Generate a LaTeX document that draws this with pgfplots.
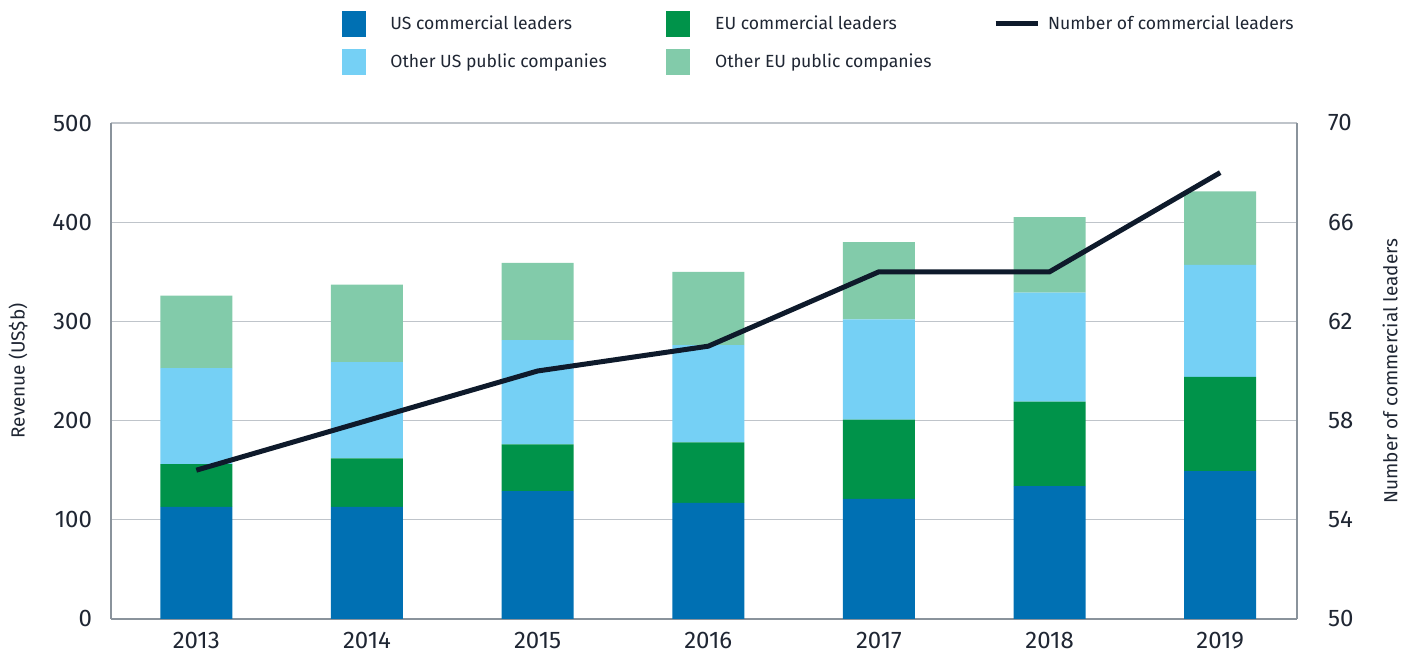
\documentclass[border=0pt]{standalone}
\usepackage{pgfplots}
\pgfplotsset{compat=1.18}
\usepackage{fontspec}
\setmainfont{Fira Sans}

\definecolor{usleader}{HTML}{0070B3}
\definecolor{euleader}{HTML}{00934A}
\definecolor{usother}{HTML}{75D0F5}
\definecolor{euother}{HTML}{82CBAA}
\definecolor{navy}{HTML}{0E1A2B}
\definecolor{txt}{HTML}{1F2633}
\definecolor{gridc}{HTML}{BFC4CA}
\definecolor{axc}{HTML}{8A939C}

\pgfplotsset{
  common/.style={
    width=593pt, height=248pt, scale only axis,
    xmin=-0.5, xmax=6.45,
    major tick length=0pt,
    tick label style={font=\fontsize{12}{14}\selectfont, text=txt},
    label style={font=\fontsize{9.5}{11}\selectfont, text=txt},
    /pgf/number format/assume math mode=true,
    axis line style={axc, line width=0.8pt},
    clip=false,
  },
}

\begin{document}
\begin{tikzpicture}
\begin{axis}[
  common,
  ymin=0, ymax=500,
  ybar stacked, bar width=36pt,
  xtick={0,...,6},
  xticklabels={2013,2014,2015,2016,2017,2018,2019},
  ytick={0,100,...,500},
  axis x line*=bottom, axis y line*=left,
  ymajorgrids, grid style={gridc, line width=0.6pt},
  yticklabel style={xshift=-6pt},
  xticklabel style={yshift=-3pt},
  ylabel={Revenue (US\$b)},
  ylabel style={at={(rel axis cs:-0.0784,0.5)}, anchor=center},
]
% US commercial leaders
\addplot[fill=usleader, draw=none] coordinates {(0,113) (1,113) (2,129) (3,117) (4,121) (5,134) (6,149)};
% EU commercial leaders
\addplot[fill=euleader, draw=none] coordinates {(0,43) (1,49) (2,47) (3,61) (4,80) (5,85) (6,95)};
% Other US public companies
\addplot[fill=usother, draw=none] coordinates {(0,97) (1,97) (2,105) (3,98) (4,101) (5,110) (6,113)};
% Other EU public companies
\addplot[fill=euother, draw=none] coordinates {(0,73) (1,78) (2,78) (3,74) (4,78) (5,76) (6,74)};
% page size
\path (rel axis cs:0,0) -- ++(-55.5pt,-17pt);
\path (rel axis cs:1,1) -- ++(57pt,61.5pt);
\end{axis}

\begin{axis}[
  common,
  ymin=50, ymax=70,
  ytick={50,54,...,70},
  axis x line=none, axis y line*=right,
  yticklabel style={xshift=12pt},
  ylabel={Number of commercial leaders},
  ylabel style={at={(rel axis cs:1.0784,0.5)}, anchor=center},
  legend columns=3,
  legend style={draw=none, fill=none, at={(0.189,1.235)}, anchor=north west,
    font=\fontsize{8.8}{10.5}\selectfont, text=txt,
    column sep=0pt, row sep=6.3pt},
  legend cell align=left,
]
\addlegendimage{area legend, legend image code/.code={\fill[usleader] (0pt,-6.25pt) rectangle (11.5pt,6.25pt);}}
\addlegendentry{\makebox[146.5pt][l]{\hspace{10.5pt}US commercial leaders}}
\addlegendimage{area legend, legend image code/.code={\fill[euleader] (0pt,-6.25pt) rectangle (11.5pt,6.25pt);}}
\addlegendentry{\makebox[147.5pt][l]{\hspace{10.5pt}EU commercial leaders}}
\addplot[navy, line width=2.5pt, legend image code/.code={\draw[navy, line width=2.5pt] (0pt,0pt) -- (21pt,0pt);}]
  coordinates {(0,56) (1,58) (2,60) (3,61) (4,64) (5,64) (6,68)};
\addlegendentry{\hspace{2pt}Number of commercial leaders}
\addlegendimage{area legend, legend image code/.code={\fill[usother] (0pt,-6.25pt) rectangle (11.5pt,6.25pt);}}
\addlegendentry{\makebox[146.5pt][l]{\hspace{10.5pt}Other US public companies}}
\addlegendimage{area legend, legend image code/.code={\fill[euother] (0pt,-6.25pt) rectangle (11.5pt,6.25pt);}}
\addlegendentry{\makebox[147.5pt][l]{\hspace{10.5pt}Other EU public companies}}
\end{axis}
\end{tikzpicture}
\end{document}
